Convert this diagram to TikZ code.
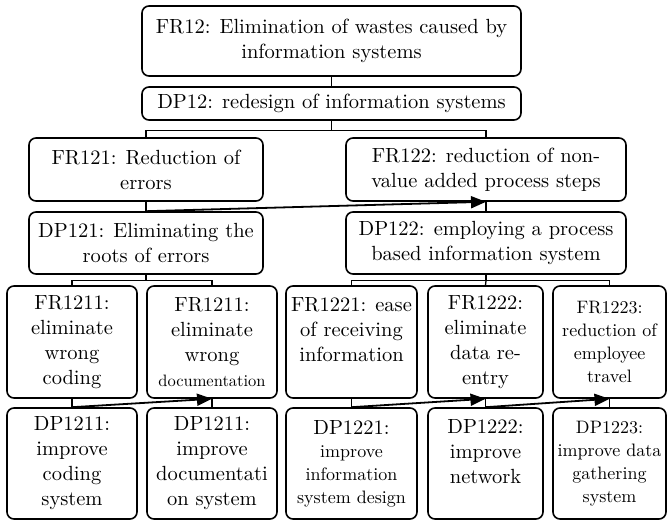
\documentclass[tikz,border=0pt]{standalone}
\usepackage{fontspec}
\setmainfont{lmroman10-regular}[Extension=.otf]
\usetikzlibrary{arrows.meta,calc}
\newcommand\fA{\fontsize{20.5}{25}\selectfont}
\newcommand\fB{\fontsize{18}{23}\selectfont}
\newcommand\fC{\fontsize{16.5}{20}\selectfont}
\begin{document}
\begin{tikzpicture}[x=1pt,y=-1pt,
 box/.style={draw, line width=1.6pt, rounded corners=7pt, align=center, inner sep=0pt, font=\fA},
 conn/.style={line width=1.3pt},
 arr/.style={line width=1.8pt, -{Triangle[length=15pt,width=12pt]}}]
\useasboundingbox (0,0) rectangle (667,521);
% top levels
\node[box, minimum width=379pt, minimum height=70pt] (fr12) at (331.5,41) {FR12: Elimination of wastes caused by\\information systems};
\node[box, minimum width=379pt, minimum height=33pt] (dp12) at (331.5,103.5) {DP12: redesign of information systems};
\node[box, minimum width=234pt, minimum height=63pt] (fr121) at (146,169.5) {FR121: Reduction of\\errors};
\node[box, minimum width=280pt, minimum height=63pt] (fr122) at (486,169.5) {FR122: reduction of non-\\value added process steps};
\node[box, minimum width=234pt, minimum height=62pt] (dp121) at (146,243) {DP121: Eliminating the\\roots of errors};
\node[box, minimum width=280pt, minimum height=62pt] (dp122) at (486,243) {DP122: employing a process\\based information system};
% bottom FR row
\node[box, minimum width=130pt, minimum height=112pt] (f1) at (72,342) {FR1211:\\eliminate\\wrong\\coding};
\node[box, minimum width=130pt, minimum height=112pt] (f2) at (212,342) {FR1211:\\eliminate\\wrong\\{\fC documentation}};
\node[box, minimum width=131pt, minimum height=112pt] (f3) at (351.5,342) {FR1221: ease\\of receiving\\information\\~};
\node[box, minimum width=115pt, minimum height=112pt] (f4) at (485.5,342) {FR1222:\\eliminate\\data re-\\entry};
\node[box, minimum width=113pt, minimum height=112pt, font=\fB] (f5) at (609.5,342) {FR1223:\\reduction of\\employee\\travel};
% bottom DP row
\node[box, minimum width=130pt, minimum height=111pt] (d1) at (72,463.5) {DP1211:\\improve\\coding\\system};
\node[box, minimum width=130pt, minimum height=111pt] (d2) at (212,463.5) {DP1211:\\improve\\documentati\\on system};
\node[box, minimum width=131pt, minimum height=111pt, font=\fB] (d3) at (351.5,463.5) {{\fA DP1221:}\\improve\\information\\system design};
\node[box, minimum width=115pt, minimum height=111pt] (d4) at (485.5,463.5) {DP1222:\\improve\\network\\~};
\node[box, minimum width=113pt, minimum height=111pt, font=\fB] (d5) at (609.5,463.5) {DP1223:\\improve data\\gathering\\system};
% connectors
\coordinate (j1) at ($(dp12.south)+(0,10)$);
\coordinate (j2) at ($(dp121.south)+(0,6)$);
\coordinate (j3) at ($(dp122.south)+(0,6)$);
\draw[conn] (fr12.south) -- (dp12.north);
\draw[conn] (dp12.south) -- (j1);
\draw[conn] (fr121.north) |- (j1) -| (fr122.north);
\draw[conn] (fr121.south) -- (dp121.north);
\draw[conn] (fr122.south) -- (dp122.north);
\draw[conn] (dp121.south) -- (j2);
\draw[conn] (f1.north) |- (j2) -| (f2.north);
\draw[conn] (dp122.south) -- (j3);
\draw[conn] (f3.north) |- (j3) -| (f5.north);
\draw[conn] (f4.north) -- (j3);
\foreach \i in {1,...,5} {\draw[conn] (f\i.south) -- (d\i.north);}
% arrows
\draw[arr] (dp121.north) -- (fr122.south);
\draw[arr] (d1.north) -- (f2.south);
\draw[arr] (d3.north) -- (f4.south);
\draw[arr] (d4.north) -- (f5.south);
\end{tikzpicture}
\end{document}
